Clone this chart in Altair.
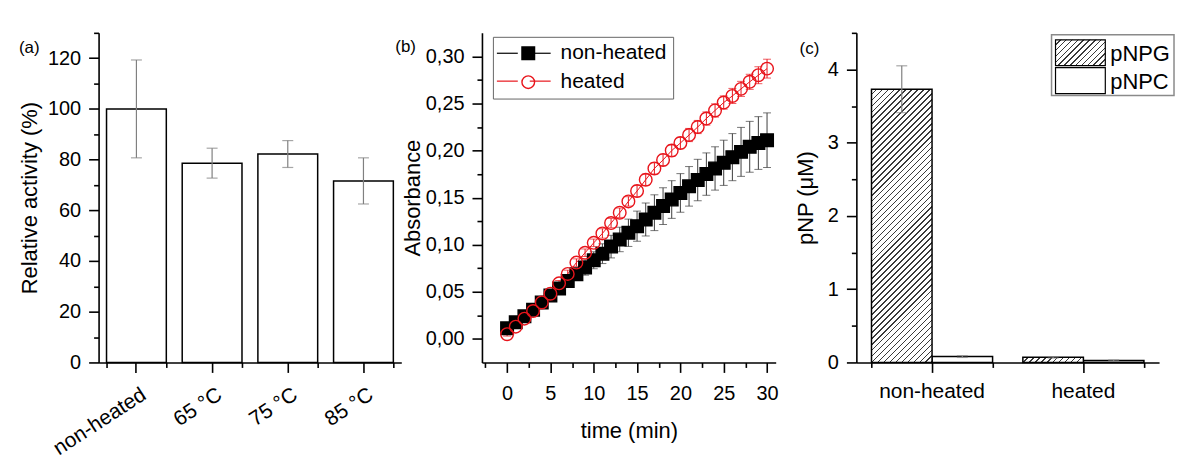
import math
import altair as alt
import pandas as pd

FONT = "Liberation Sans"

# ---------------- data ----------------
# (a) relative activity
a_cats = ["non-heated", "65 °C", "75 °C", "85 °C"]
a_vals = [100.0, 78.6, 82.2, 71.6]
a_errs = [19.3, 5.9, 5.3, 9.1]

# (b) absorbance kinetics
b_time = list(range(31))
b_series = ["non-heated", "heated"]
b_nonheated = [0.0113, 0.0176, 0.024, 0.031, 0.0387, 0.046, 0.0535, 0.0616, 0.0687, 0.0757,
               0.0835, 0.0905, 0.098, 0.1056, 0.1127, 0.1197, 0.1268, 0.134, 0.141, 0.148,
               0.155, 0.162, 0.1687, 0.175, 0.181, 0.187, 0.193, 0.1986, 0.204, 0.208, 0.211]
b_nonheated_err = [0.001, 0.001, 0.002, 0.002, 0.003, 0.003, 0.004, 0.005, 0.006, 0.008,
                   0.009, 0.0105, 0.012, 0.013, 0.0145, 0.016, 0.0175, 0.019, 0.0195, 0.020,
                   0.0205, 0.021, 0.022, 0.0225, 0.023, 0.024, 0.025, 0.026, 0.027, 0.028, 0.029]
b_heated = [0.005, 0.013, 0.0215, 0.0296, 0.0387, 0.048, 0.059, 0.069, 0.081, 0.0915,
            0.102, 0.112, 0.123, 0.134, 0.146, 0.157, 0.169, 0.181, 0.190, 0.200,
            0.208, 0.2165, 0.225, 0.234, 0.2426, 0.251, 0.258, 0.2655, 0.273, 0.280, 0.287]
b_heated_err = [0.002, 0.002, 0.002, 0.003, 0.003, 0.003, 0.003, 0.004, 0.004, 0.004,
                0.004, 0.005, 0.005, 0.005, 0.005, 0.006, 0.006, 0.006, 0.006, 0.006,
                0.006, 0.007, 0.007, 0.007, 0.007, 0.007, 0.008, 0.008, 0.008, 0.009, 0.010]

# (c) pNP released
c_groups = ["non-heated", "heated"]
c_subs = ["pNPG", "pNPC"]
c_pnpg = [3.73, 0.07]
c_pnpg_err = [0.32, 0.01]
c_pnpc = [0.08, 0.025]
c_pnpc_err = [0.012, 0.008]

# ---------------- layout / style ----------------
H = 331
WA, WB, WC = 304, 295, 304
SPACING = 81
A_YMAX, C_YMAX = 130, 4.5
GRAY = "#808080"
RED = "#e8141b"
MAJ, MIN = 10, 5


def minor_axis(orient, values=None, band=False):
    kw = dict(orient=orient, labels=False, domain=False, tickSize=MIN, grid=False, title=None)
    if band:
        kw["tickBand"] = "extent"
    else:
        kw["values"] = values
    return alt.Axis(**kw)


def hatch(w, h, period=4.2, frac=0.26, color="#3a3a3a"):
    r = w / h
    k = (r + 1) / (r * r + 1)
    n = max(1, int(round((w + h) / math.sqrt(2) / period)))
    stops = []
    for i in range(n):
        a, b, c = i / n, (i + 1 - frac) / n, (i + 1) / n
        stops += [alt.GradientStop(offset=a, color="white"),
                  alt.GradientStop(offset=b, color="white"),
                  alt.GradientStop(offset=b, color=color),
                  alt.GradientStop(offset=min(c, 1.0), color=color)]
    return alt.LinearGradient(gradient="linear", stops=stops, x1=0, y1=0, x2=k * r, y2=k)


def panel_label(txt, dx, dy):
    return alt.Chart(pd.DataFrame({"t": [txt]})).mark_text(
        align="left", baseline="middle", fontSize=17, font=FONT, color="black"
    ).encode(text="t:N", x=alt.value(dx), y=alt.value(dy))


# ---------------- panel (a) ----------------
a_df = pd.DataFrame({"cat": a_cats, "val": a_vals, "err": a_errs})
a_x = alt.Scale(domain=a_cats, paddingInner=0.21, paddingOuter=0.105)
a_y = alt.Scale(domain=[0, A_YMAX], nice=False)
a_base = alt.Chart(a_df).transform_calculate(lo="datum.val - datum.err", hi="datum.val + datum.err")

a_bars = alt.Chart(a_df).mark_bar(fill="white", stroke="black", strokeWidth=1.5).encode(
    x=alt.X("cat:N", scale=a_x, title=None,
            axis=alt.Axis(orient="bottom", labelAngle=327, labelAlign="right", labelBaseline="top",
                          labelPadding=11, labelOffset=2, tickSize=MAJ, labelFontSize=21)),
    y=alt.Y("val:Q", scale=a_y, title="Relative activity (%)",
            axis=alt.Axis(orient="left", values=list(range(0, 121, 20)), tickSize=MAJ,
                          labelPadding=8, titlePadding=6, labelOverlap=False)),
)
a_err = a_base.mark_rule(color=GRAY, strokeWidth=1.2).encode(
    x=alt.X("cat:N", scale=a_x, title=None, axis=minor_axis("bottom", band=True)),
    y=alt.Y("lo:Q", scale=a_y, axis=minor_axis("left", list(range(10, 131, 20)))),
    y2="hi:Q",
)
a_caps = a_base.transform_fold(["lo", "hi"], as_=["k", "v"]).mark_tick(
    color=GRAY, thickness=1.2, size=11, orient="horizontal"
).encode(x=alt.X("cat:N", scale=a_x, axis=None), y=alt.Y("v:Q", scale=a_y, axis=None))

A = alt.layer(a_bars, a_err, a_caps, panel_label("(a)", -80, 15)).resolve_axis(
    x="independent", y="independent").properties(width=WA, height=H)

# ---------------- panel (b) ----------------
rows = []
for s, vals, errs in [("non-heated", b_nonheated, b_nonheated_err), ("heated", b_heated, b_heated_err)]:
    for t, v, e in zip(b_time, vals, errs):
        rows.append({"t": t, "series": s, "val": v, "err": e})
b_df = pd.DataFrame(rows)

b_x = alt.Scale(domain=[-2.9, 31], nice=False, zero=False)
b_y = alt.Scale(domain=[-0.025, 0.325], nice=False, zero=False)

# legend box of panel (b): the concat places legends relative to panel (a)'s origin
LEG_DX, LEG_DY = 11, 4
b_legend = alt.Legend(orient="none", legendX=WA + SPACING + LEG_DX, legendY=LEG_DY, title=None,
                      strokeColor="#666666", padding=6, labelFontSize=21, labelFont=FONT,
                      symbolOffset=19, labelOffset=22, rowPadding=7, symbolSize=160,
                      symbolStrokeWidth=1.4)


def b_line(s, col, with_axes=False):
    enc_x = alt.X("t:Q", scale=b_x, axis=minor_axis("bottom", [-2.5 + 5 * i for i in range(7)])
                  if with_axes else None)
    enc_y = alt.Y("val:Q", scale=b_y, axis=minor_axis("left", [0.025 + 0.05 * i for i in range(7)])
                  if with_axes else None)
    return alt.Chart(b_df).transform_filter(alt.datum.series == s).mark_line(
        strokeWidth=1, color=col).encode(x=enc_x, y=enc_y)


def b_err(s, col):
    base = alt.Chart(b_df).transform_filter(alt.datum.series == s).transform_calculate(
        lo="datum.val - datum.err", hi="datum.val + datum.err")
    rule = base.mark_rule(color=col, strokeWidth=1).encode(
        x=alt.X("t:Q", scale=b_x, axis=None), y=alt.Y("lo:Q", scale=b_y, axis=None), y2="hi:Q")
    caps = base.transform_fold(["lo", "hi"], as_=["k", "v"]).mark_tick(
        color=col, thickness=1, size=8, orient="horizontal"
    ).encode(x=alt.X("t:Q", scale=b_x, axis=None), y=alt.Y("v:Q", scale=b_y, axis=None))
    return rule, caps


nh_rule, nh_caps = b_err("non-heated", "#3c3c3c")
h_rule, h_caps = b_err("heated", RED)

b_pts = alt.Chart(b_df).mark_point(size=160, strokeWidth=1.4, opacity=1).encode(
    x=alt.X("t:Q", scale=b_x, title="time (min)",
            axis=alt.Axis(orient="bottom", values=[5 * i for i in range(7)], tickSize=MAJ,
                          labelPadding=11, titlePadding=17, labelFlush=False, labelOverlap=False)),
    y=alt.Y("val:Q", scale=b_y, title="Absorbance",
            axis=alt.Axis(orient="left", values=[round(0.05 * i, 2) for i in range(7)],
                          labelExpr="replace(format(datum.value, '.2f'), '.', ',')",
                          tickSize=MAJ, labelPadding=8, titlePadding=1,
                          labelOverlap=False, labelFlush=False)),
    color=alt.Color("series:N", scale=alt.Scale(domain=b_series, range=["black", RED]),
                    legend=b_legend),
    fill=alt.Fill("series:N", scale=alt.Scale(domain=b_series, range=["black", "transparent"]),
                  legend=b_legend),
    shape=alt.Shape("series:N", scale=alt.Scale(domain=b_series, range=["square", "circle"]),
                    legend=b_legend),
)

# short line pieces of the legend entries (drawn under the legend symbols)
STUB_CX = LEG_DX + 6 + 19 + 6  # symbol centre relative to panel (b)
stubs = []
for j, (s, col) in enumerate(zip(b_series, ["black", RED])):
    yy = LEG_DY + 6 + 10.5 + 28 * j
    for xa, xb in [(STUB_CX - 27, STUB_CX - 6), (STUB_CX + 6, STUB_CX + 27)]:
        stubs.append(alt.Chart(pd.DataFrame({"series": [s]})).mark_rule(
            color=col, strokeWidth=1.2
        ).encode(x=alt.value(xa), x2=alt.value(xb), y=alt.value(yy)))

B = alt.layer(b_line("non-heated", "black", True), b_line("heated", RED),
              nh_rule, nh_caps, h_rule, h_caps, b_pts, *stubs,
              panel_label("(b)", -87, 14)).resolve_axis(
    x="independent", y="independent").properties(width=WB, height=H)

# ---------------- panel (c) ----------------
c_rows = []
for i, g in enumerate(c_groups):
    c_rows.append({"group": g, "sub": "pNPG", "val": c_pnpg[i], "err": c_pnpg_err[i]})
    c_rows.append({"group": g, "sub": "pNPC", "val": c_pnpc[i], "err": c_pnpc_err[i]})
c_df = pd.DataFrame(c_rows)

c_x = alt.Scale(domain=c_groups, paddingInner=0.2, paddingOuter=0.1)
c_off = alt.Scale(domain=c_subs)
c_y = alt.Scale(domain=[0, C_YMAX], nice=False)
sub_w = WC / 2.0 * 0.8 / 2


def c_enc(axis_x=None, axis_y=None, yfield="val:Q", title_y=None):
    return dict(
        x=alt.X("group:N", scale=c_x, title=None, axis=axis_x),
        xOffset=alt.XOffset("sub:N", scale=c_off),
        y=alt.Y(yfield, scale=c_y, title=title_y, axis=axis_y),
    )


c_pnpc_bars = alt.Chart(c_df).transform_filter(alt.datum.sub == "pNPC").mark_bar(
    fill="white", stroke="black", strokeWidth=1.5
).encode(**c_enc(
    axis_x=alt.Axis(orient="bottom", tickSize=MAJ, labelPadding=8, labelFontSize=21, labelAngle=0),
    axis_y=alt.Axis(orient="left", values=[0, 1, 2, 3, 4], tickSize=MAJ,
                    labelPadding=8, titlePadding=10, labelOverlap=False),
    title_y="pNP (μM)"))

g_layers = []
for i, g in enumerate(c_groups):
    hpx = c_pnpg[i] / C_YMAX * H
    g_layers.append(
        alt.Chart(c_df).transform_filter((alt.datum.sub == "pNPG") & (alt.datum.group == g)).mark_bar(
            fill=hatch(sub_w, hpx), stroke="black", strokeWidth=1.5
        ).encode(**c_enc()))

c_base = alt.Chart(c_df).transform_calculate(lo="datum.val - datum.err", hi="datum.val + datum.err")
c_err = c_base.mark_rule(color=GRAY, strokeWidth=1.2).encode(
    x=alt.X("group:N", scale=c_x, title=None, axis=minor_axis("bottom", band=True)),
    xOffset=alt.XOffset("sub:N", scale=c_off),
    y=alt.Y("lo:Q", scale=c_y, axis=minor_axis("left", [0.5, 1.5, 2.5, 3.5, 4.5])),
    y2="hi:Q",
)
c_caps = c_base.transform_fold(["lo", "hi"], as_=["k", "v"]).mark_tick(
    color=GRAY, thickness=1.2, size=11, orient="horizontal"
).encode(**c_enc(yfield="v:Q"))

# legend for (c)
leg_box = alt.Chart(pd.DataFrame({"k": [0]})).mark_rect(
    fill="white", stroke="#8a8a8a", strokeWidth=1.5
).encode(x=alt.value(196), x2=alt.value(319), y=alt.value(2), y2=alt.value(63))
leg_items = []
for j, s in enumerate(c_subs):
    y0 = 7 + 28 * j
    fill = hatch(50, 26) if s == "pNPG" else "white"
    leg_items.append(alt.Chart(pd.DataFrame({"sub": [s]})).mark_rect(
        fill=fill, stroke="black", strokeWidth=1.2
    ).encode(x=alt.value(200), x2=alt.value(250), y=alt.value(y0), y2=alt.value(y0 + 26)))
    leg_items.append(alt.Chart(pd.DataFrame({"sub": [s]})).mark_text(
        align="left", baseline="middle", fontSize=22, font=FONT, color="black"
    ).encode(text="sub:N", x=alt.value(255), y=alt.value(y0 + 14)))

C = alt.layer(c_pnpc_bars, *g_layers, c_err, c_caps, leg_box, *leg_items,
              panel_label("(c)", -57, 16)).resolve_axis(
    x="independent", y="independent").properties(width=WC, height=H)

chart = alt.hconcat(A, B, C, spacing=SPACING, bounds="flush").properties(
    padding={"left": 18, "top": 31, "right": 2, "bottom": 2}
).configure(font=FONT).configure_axis(
    domainColor="black", domainWidth=1.6, tickColor="black", tickWidth=1.6,
    labelFont=FONT, labelFontSize=20, labelColor="black",
    titleFont=FONT, titleFontSize=22, titleFontWeight="normal", titleColor="black",
    grid=False,
).configure_view(stroke=None)

chart.save("out.html", embed_options={"renderer": "svg", "actions": False})
